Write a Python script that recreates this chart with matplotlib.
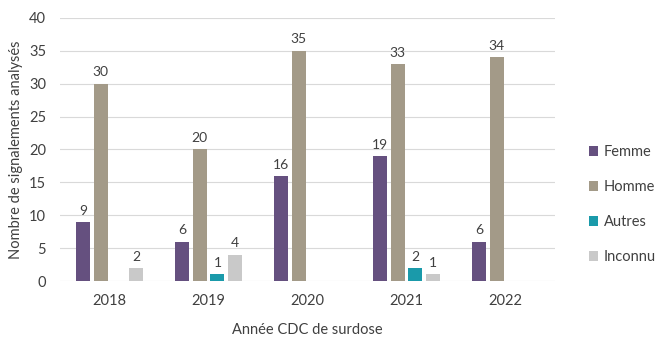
import numpy as np
import matplotlib
matplotlib.use('Agg')
import matplotlib.pyplot as plt

# DATA
years = ['2018', '2019', '2020', '2021', '2022']
series = ['Femme', 'Homme', 'Autres', 'Inconnu']
femme = [9, 6, 16, 19, 6]
homme = [30, 20, 35, 33, 34]
autres = [0, 1, 0, 2, 0]
inconnu = [2, 4, 0, 1, 0]
colors = ['#65507f', '#a39a88', '#1a9aaa', '#c9c9c9']

plt.rcParams['font.family'] = ['Lato', 'DejaVu Sans']
txt = '#404040'

fig = plt.figure(figsize=(6.6, 3.37), dpi=100)
ax = fig.add_axes([0.091, 0.166, 0.75, 0.781])

x = np.arange(len(years))
step = 0.18
width = 0.142
for i, (name, vals) in enumerate(zip(series, [femme, homme, autres, inconnu])):
	pos = x + (i - 1.5) * step
	ax.bar(pos, vals, width, color=colors[i], label=name, zorder=3)
	for p, v in zip(pos, vals):
		if v > 0:
			ax.text(p, v + 0.8, str(v), ha='center', va='bottom',
				fontsize=10, color=txt)

ax.set_xlim(-0.5, 4.5)
ax.set_ylim(0, 40)
ax.set_yticks(range(0, 41, 5))
ax.set_xticks(x)
ax.set_xticklabels(years)
ax.grid(axis='y', color='#d9d9d9', linewidth=0.8, zorder=0)
for k, v in ax.spines.items():
	v.set_visible(False)
ax.tick_params(length=0, colors=txt, labelsize=10.5)
ax.tick_params(axis='x', pad=9)
ax.tick_params(axis='y', pad=10)
ax.set_ylabel('Nombre de signalements analysés', fontsize=10.5, color=txt,
	labelpad=4)
ax.set_xlabel('Année CDC de surdose', fontsize=10.5, color=txt, labelpad=11)

leg = fig.legend(loc='center left', bbox_to_anchor=(0.872, 0.393),
	frameon=False, fontsize=10.5, handlelength=0.65, handleheight=0.65,
	labelspacing=1.45, handletextpad=0.4)
for t in leg.get_texts():
	t.set_color(txt)

fig.savefig('out.png', dpi=100)
